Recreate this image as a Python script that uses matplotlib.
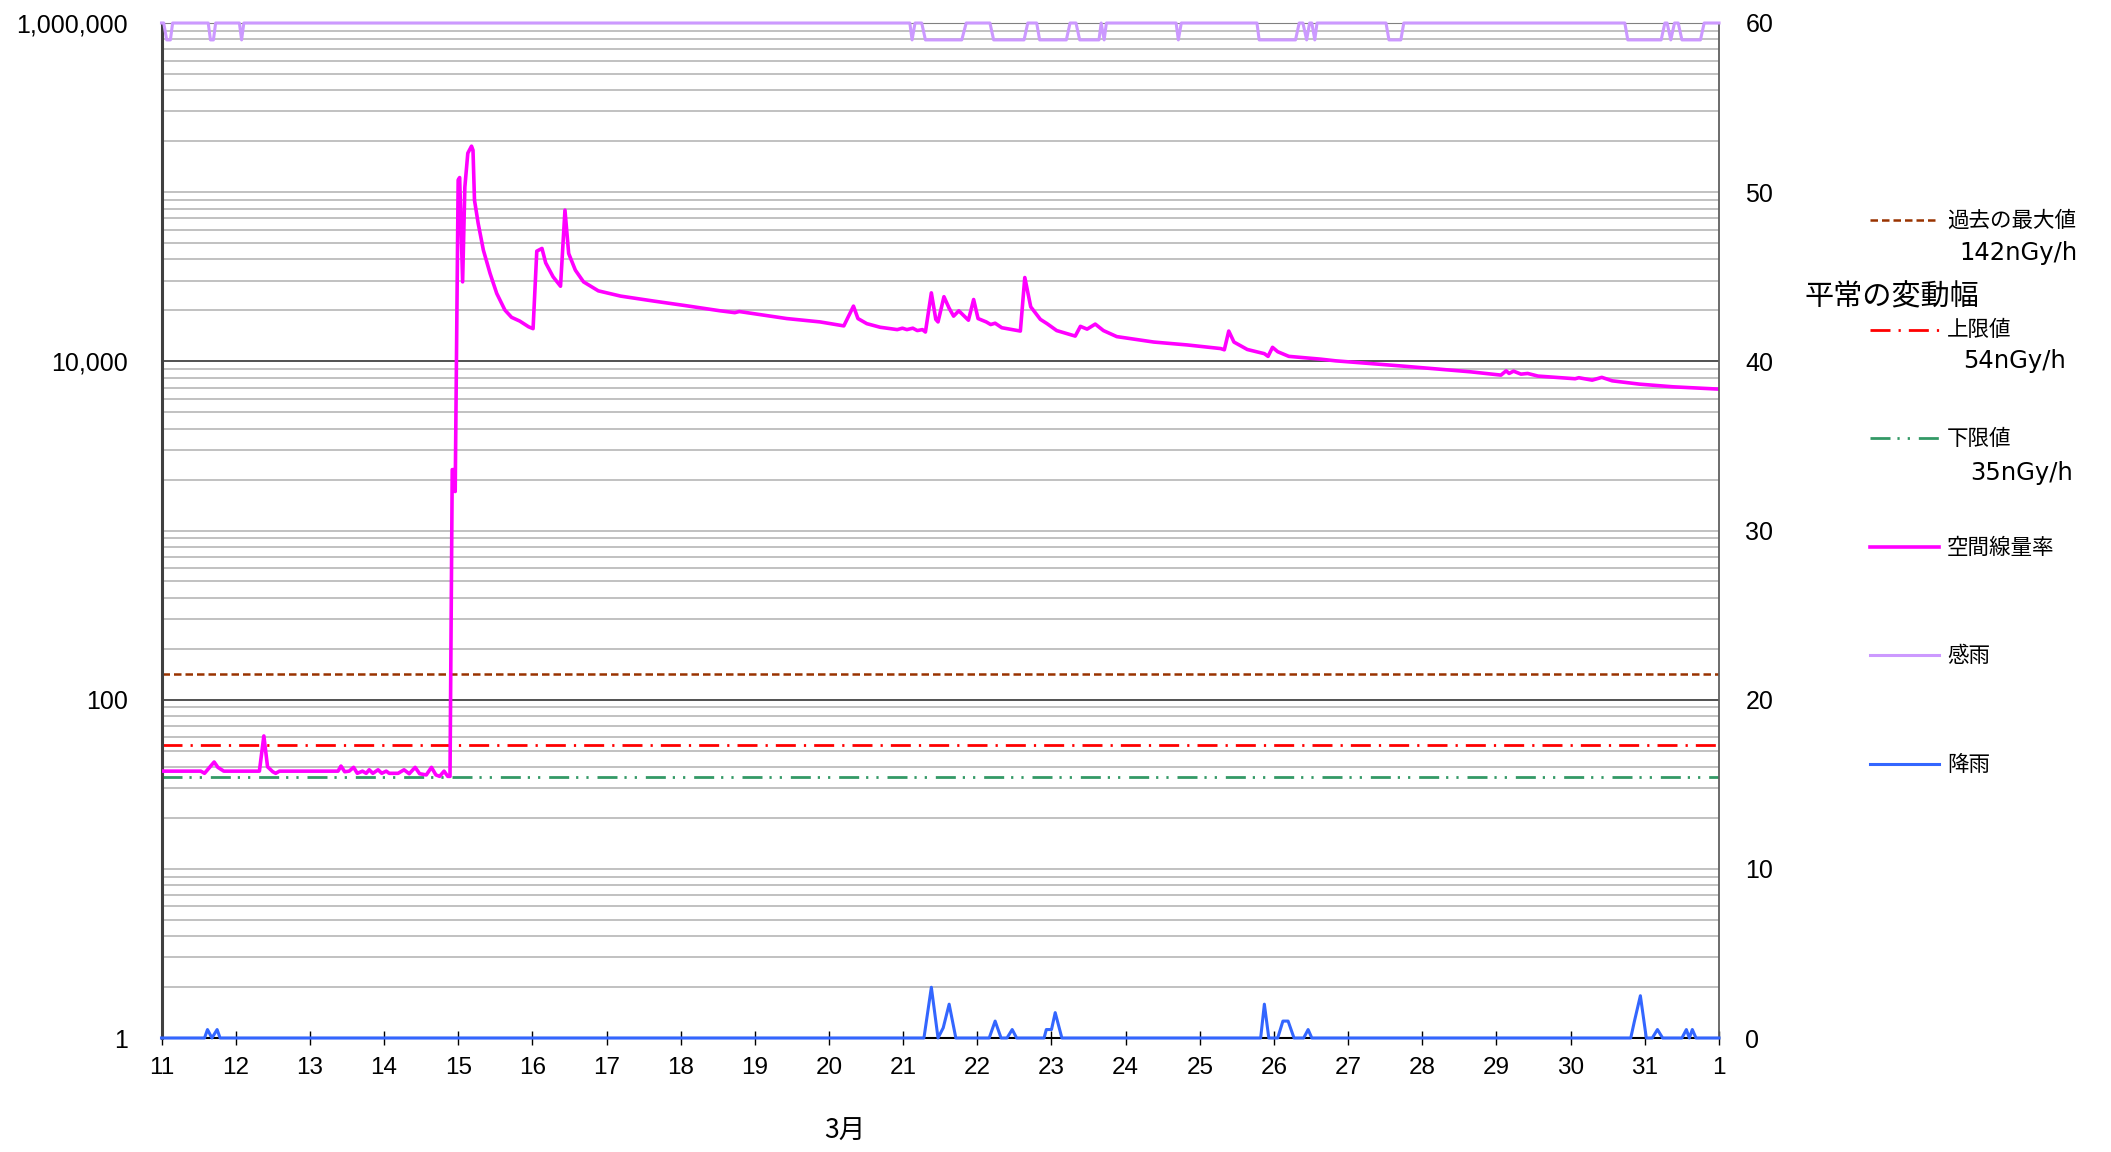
import numpy as np
import matplotlib
matplotlib.use('Agg')
import matplotlib.pyplot as plt
from matplotlib.ticker import FixedLocator, FuncFormatter, NullFormatter
from matplotlib.lines import Line2D

plt.rcParams['font.family'] = ['Liberation Sans', 'Noto Sans CJK JP', 'DejaVu Sans']

# ---------------- data ----------------
dose_t = [
    11.00, 11.53, 11.58, 11.71, 11.76, 11.84, 12.32, 12.38, 12.43, 12.50,
    12.54, 12.59, 13.38, 13.42, 13.47, 13.53, 13.59, 13.64, 13.71, 13.76,
    13.80, 13.85, 13.92, 13.97, 14.03, 14.07, 14.19, 14.27, 14.34, 14.42,
    14.48, 14.57, 14.64, 14.70, 14.75, 14.81, 14.86, 14.89, 14.92, 14.94,
    14.96, 15.00, 15.02, 15.06, 15.09, 15.13, 15.18, 15.20, 15.22, 15.27,
    15.34, 15.43, 15.52, 15.63, 15.72, 15.83, 15.95, 16.01, 16.06, 16.13,
    16.18, 16.28, 16.38, 16.44, 16.49, 16.58, 16.69, 16.89, 17.19, 17.64,
    18.08, 18.53, 18.73, 18.79, 19.43, 19.88, 20.20, 20.33, 20.39, 20.51,
    20.69, 20.92, 20.99, 21.05, 21.13, 21.19, 21.26, 21.30, 21.38, 21.44,
    21.47, 21.55, 21.62, 21.68, 21.75, 21.88, 21.95, 22.01, 22.12, 22.18,
    22.24, 22.33, 22.58, 22.64, 22.72, 22.85, 22.94, 23.07, 23.32, 23.39,
    23.48, 23.59, 23.70, 23.88, 24.38, 24.83, 25.28, 25.33, 25.39, 25.46,
    25.64, 25.87, 25.92, 25.98, 26.05, 26.20, 26.63, 26.83, 27.74, 28.65,
    29.06, 29.13, 29.17, 29.23, 29.33, 29.42, 29.56, 30.06, 30.11, 30.29,
    30.42, 30.56, 30.93, 31.38, 32.00]
dose_v = [
    37.8, 37.8, 36.7, 42.8, 39.8, 37.8, 37.8, 61.0, 40.1, 37.5,
    36.7, 37.8, 37.8, 40.5, 37.5, 37.8, 39.8, 36.7, 37.8, 36.7,
    38.5, 36.7, 38.5, 36.7, 37.8, 36.7, 36.7, 38.5, 36.5, 39.8,
    36.5, 35.9, 39.8, 35.9, 35.2, 37.8, 35.2, 35.2, 2290, 2290,
    1700, 118000, 122000, 29500, 107000, 170000, 187000, 177000, 89700, 65300,
    45400, 33100, 25200, 20100, 18200, 17300, 16000, 15600, 44800, 46500,
    38200, 31600, 27800, 78300, 43400, 34600, 29500, 26100, 24300, 22700,
    21300, 19900, 19400, 19700, 17900, 17100, 16200, 21200, 17900, 16700,
    15900, 15400, 15700, 15400, 15700, 15200, 15400, 14900, 25400, 17700,
    17100, 24100, 20600, 18500, 19900, 17500, 23200, 17900, 17100, 16500,
    16800, 15800, 15100, 31300, 21000, 17700, 16700, 15200, 14100, 16100,
    15500, 16600, 15200, 14000, 13000, 12500, 11900, 11700, 15100, 13000,
    11750, 11100, 10700, 12100, 11400, 10700, 10300, 10070, 9370, 8670,
    8290, 8790, 8480, 8750, 8400, 8480, 8180, 7890, 8000, 7740,
    8040, 7670, 7330, 7070, 6850]

rain_t = [11.00, 11.58, 11.62, 11.68, 11.75, 11.79,
          21.28, 21.38, 21.47, 21.54, 21.62, 21.71,
          22.16, 22.24, 22.32, 22.40, 22.47, 22.53,
          22.90, 22.93, 23.00, 23.05, 23.14,
          25.82, 25.87, 25.93, 26.05, 26.12, 26.19, 26.27,
          26.40, 26.46, 26.51,
          30.81, 30.86, 30.94, 31.02, 31.10, 31.17, 31.24,
          31.50, 31.56, 31.60, 31.64, 31.69, 32.00]
rain_v = [0, 0, 0.5, 0, 0.5, 0,
          0, 3.0, 0, 0.6, 2.0, 0,
          0, 1.0, 0, 0, 0.5, 0,
          0, 0.5, 0.5, 1.5, 0,
          0, 2.0, 0, 0, 1.0, 1.0, 0,
          0, 0.5, 0,
          0, 1.0, 2.5, 0, 0, 0.5, 0,
          0, 0.5, 0, 0.5, 0, 0]

sensor_t = [11.00, 11.03, 11.07, 11.12, 11.15,
            11.63, 11.66, 11.70, 11.73,
            12.05, 12.08, 12.11,
            21.09, 21.12, 21.16,
            21.25, 21.30, 21.79, 21.85,
            22.17, 22.22, 22.63, 22.68,
            22.80, 22.84, 23.20, 23.25,
            23.33, 23.38, 23.64, 23.67, 23.71, 23.74,
            24.68, 24.71, 24.75,
            25.77, 25.80, 26.29, 26.34,
            26.39, 26.44, 26.48,
            26.51, 26.55, 26.58,
            27.51, 27.55, 27.71, 27.75,
            30.73, 30.77, 31.22, 31.27,
            31.30, 31.35, 31.40,
            31.45, 31.50, 31.75, 31.80,
            32.00]
sensor_v = [60, 60, 59, 59, 60,
            60, 59, 59, 60,
            60, 59, 60,
            60, 59, 60,
            60, 59, 59, 60,
            60, 59, 59, 60,
            60, 59, 59, 60,
            60, 59, 59, 60, 59, 60,
            60, 59, 60,
            60, 59, 59, 60,
            60, 59, 60,
            60, 59, 60,
            60, 59, 59, 60,
            60, 59, 59, 60,
            60, 59, 60,
            60, 59, 59, 60,
            60]

past_max = 142
upper_limit = 54
lower_limit = 35

x_ticks = list(range(11, 33))
x_labels = [str(d) for d in range(11, 32)] + ['1']
left_ticks = [1, 100, 10000, 1000000]
right_ticks = [0, 10, 20, 30, 40, 50, 60]
x_title = '3月'

leg_names = ['過去の最大値', '上限値', '下限値', '空間線量率', '感雨', '降雨']
leg_values = ['142nGy/h', '54nGy/h', '35nGy/h']
leg_group = '平常の変動幅'

# ---------------- styles ----------------
C_PINK = '#FF00FF'
C_LAV = '#CC99FF'
C_BLUE = '#3366FF'
C_BROWN = '#993300'
C_RED = '#FF0000'
C_GREEN = '#339966'
DASH_BROWN = (3.0, 1.6)
DASH_RED = (7.2, 2.9, 0.8, 2.9)
DASH_GREEN = (7.2, 2.5, 0.8, 2.9, 0.8, 3.2)

W, H = 2111, 1152
fig = plt.figure(figsize=(W / 100, H / 100), dpi=100)
L, R, T, B = 161.5, 1719, 23, 1038
ax = fig.add_axes([L / W, 1 - B / H, (R - L) / W, (B - T) / H])
ax.set_yscale('log')
ax.set_ylim(1, 1e6)
ax.set_xlim(11, 32)

# gridlines
minor_vals = [m * 10 ** k for k in range(0, 6) for m in range(1, 10)
              if not (m == 1 and k % 2 == 0)]
ax.yaxis.set_major_locator(FixedLocator(left_ticks))
ax.yaxis.set_minor_locator(FixedLocator(minor_vals))
ax.yaxis.set_major_formatter(FuncFormatter(lambda v, p: f'{int(round(v)):,}'))
ax.yaxis.set_minor_formatter(NullFormatter())
ax.set_axisbelow(True)
ax.grid(True, which='minor', axis='y', color='#b0b0b0', lw=1.1)
ax.grid(True, which='major', axis='y', color='#222222', lw=1.1)

ax.set_xticks(x_ticks)
ax.set_xticklabels(x_labels)
ax.tick_params(axis='x', direction='inout', length=10, width=1, colors='black',
               pad=9, labelsize=17.5)
ax.tick_params(axis='y', which='major', direction='in', length=0, pad=24,
               labelsize=18)
ax.tick_params(axis='y', which='minor', length=0)

ax.spines['top'].set_color('#808080')
ax.spines['left'].set_color('#404040')
ax.spines['left'].set_linewidth(2.2)
ax.spines['bottom'].set_color('#000000')
ax.spines['bottom'].set_linewidth(1.5)
ax.spines['right'].set_visible(False)

# reference lines
ax.axhline(past_max, color=C_BROWN, lw=1.8, dashes=DASH_BROWN)
ax.axhline(upper_limit, color=C_RED, lw=2.0, dashes=DASH_RED)
ax.axhline(lower_limit, color=C_GREEN, lw=2.0, dashes=DASH_GREEN)

# dose rate
ax.plot(dose_t, dose_v, color=C_PINK, lw=2.6, solid_joinstyle='round', zorder=5)

# rain on right axis
ax2 = ax.twinx()
ax2.set_ylim(0, 60)
ax2.set_yticks(right_ticks)
ax2.tick_params(axis='y', length=0, pad=19, labelsize=18)
for s in ['top', 'left', 'bottom']:
    ax2.spines[s].set_visible(False)
ax2.spines['right'].set_color('#606060')
ax2.spines['right'].set_linewidth(1.3)
ax2.plot(sensor_t, sensor_v, color=C_LAV, lw=2.2, clip_on=False, zorder=6)
ax2.plot(rain_t, rain_v, color=C_BLUE, lw=2.2, clip_on=False, zorder=6)

fig.text(845 / W, 1 - 1131 / H, x_title, ha='center', va='center', fontsize=19,
         family=['Noto Sans CJK JP', 'DejaVu Sans'])

# ---------------- legend (manual) ----------------
def fx(x):
    return x / W

def fy(y):
    return 1 - y / H

JP = ['Noto Sans CJK JP', 'DejaVu Sans']
lx1, lx2, tx = 1870, 1939, 1947
rows = [
    (219.5, C_BROWN, DASH_BROWN, 1.8),
    (329.5, C_RED, DASH_RED, 2.0),
    (438.0, C_GREEN, DASH_GREEN, 2.0),
    (547.0, C_PINK, None, 2.6),
    (654.5, C_LAV, None, 2.2),
    (764.0, C_BLUE, None, 2.2),
]
for (y, c, d, lw), name in zip(rows, leg_names):
    ln = Line2D([fx(lx1), fx(lx2)], [fy(y), fy(y)], transform=fig.transFigure,
                color=c, lw=lw)
    if d is not None:
        ln.set_dashes(d)
    fig.add_artist(ln)
    fig.text(fx(tx), fy(y + 1), name, ha='left', va='center', fontsize=15.5,
             family=JP)

for (x, y), val in zip([(1959, 253), (1963, 361), (1970, 473)], leg_values):
    fig.text(fx(x), fy(y), val, ha='left', va='center', fontsize=17.5,
             family=['DejaVu Sans'])

fig.text(fx(1805), fy(297), leg_group, ha='left', va='center', fontsize=21,
         family=JP)

fig.savefig('out.png', dpi=100)
